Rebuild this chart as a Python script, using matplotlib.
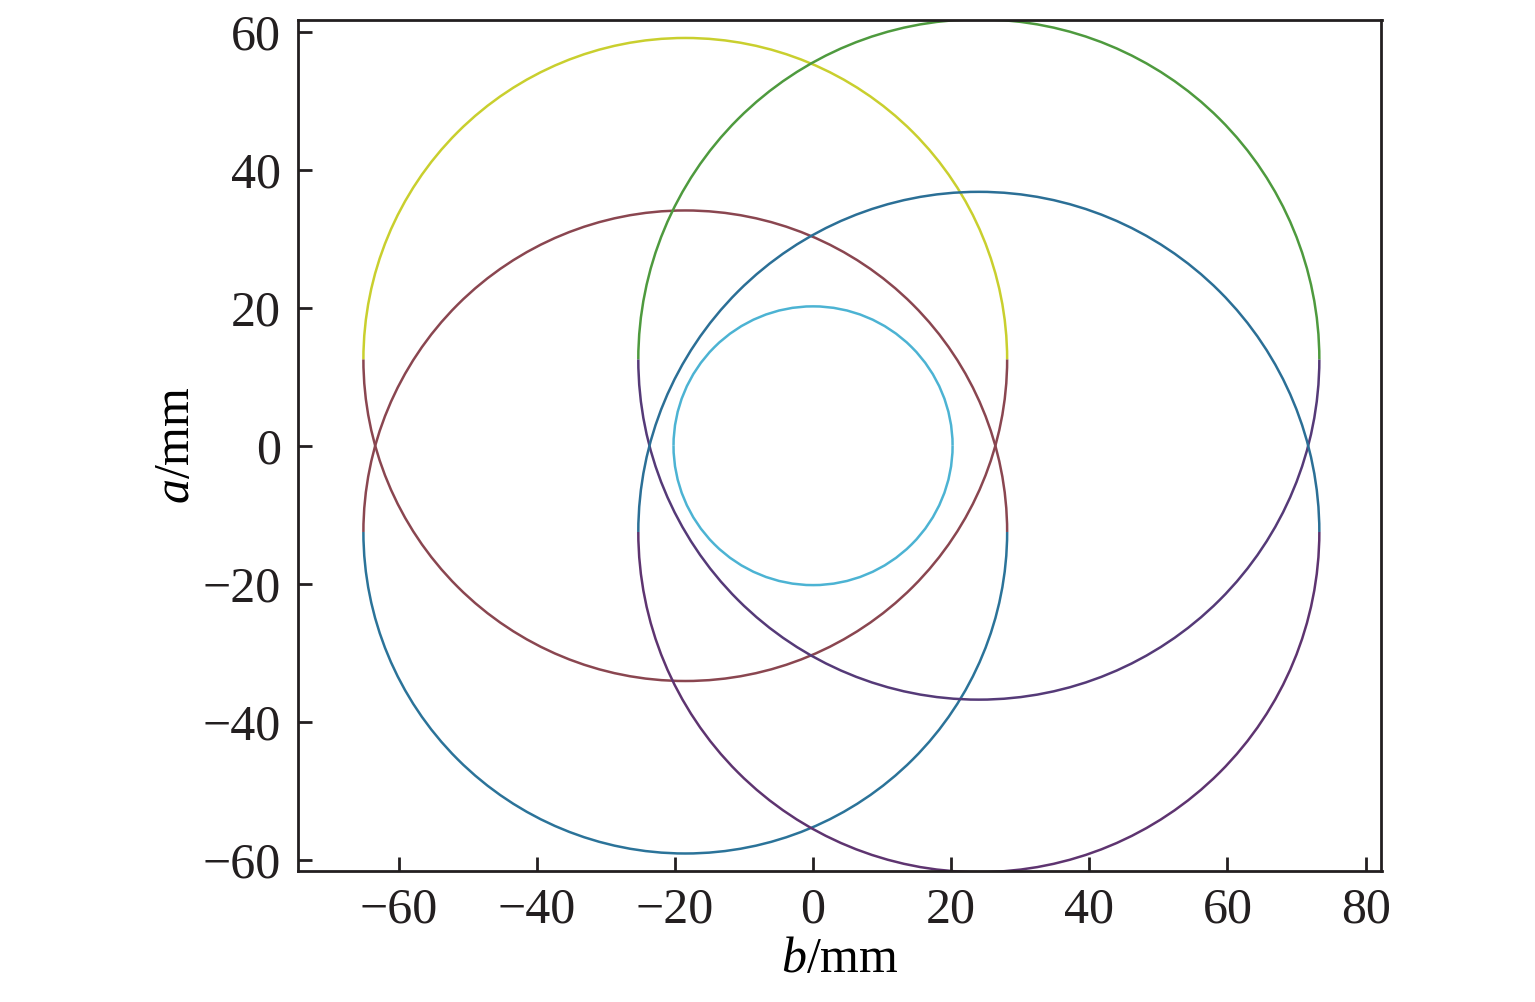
import matplotlib
matplotlib.use("Agg")
import matplotlib.pyplot as plt
from matplotlib.patches import Arc

plt.rcParams['font.family'] = ['Liberation Serif', 'DejaVu Serif']
plt.rcParams['mathtext.fontset'] = 'custom'
plt.rcParams['mathtext.rm'] = 'Liberation Serif'
plt.rcParams['mathtext.it'] = 'Liberation Serif:italic'
plt.rcParams['text.color'] = '#231f20'
plt.rcParams['xtick.color'] = '#231f20'
plt.rcParams['ytick.color'] = '#231f20'

# circles: center b, center a, radius
centers_b = [-18.5, -18.5, 24.0, 24.0, 0.0]
centers_a = [12.5, -12.5, 12.5, -12.5, 0.0]
radii = [46.6, 46.6, 49.3, 49.3, 20.2]
# colour of upper half / lower half of each circle
upper_colors = ['#c9cf2e', '#8a4650', '#4e9a3e', '#2b6f96', '#4cb3d3']
lower_colors = ['#8a4650', '#2b7399', '#553a78', '#5e3470', '#4cb3d3']

xticks = [-60, -40, -20, 0, 20, 40, 60, 80]
yticks = [-60, -40, -20, 0, 20, 40, 60]

fig = plt.figure(figsize=(15.35, 10.02), dpi=100)
ax = fig.add_axes([0.194, 0.131, 0.706, 0.849])

for cb, ca, r, cu, cl in zip(centers_b, centers_a, radii, upper_colors, lower_colors):
    ax.add_patch(Arc((cb, ca), 2 * r, 2 * r, theta1=0, theta2=180, color=cu, lw=1.8))
    ax.add_patch(Arc((cb, ca), 2 * r, 2 * r, theta1=180, theta2=360, color=cl, lw=1.8))

ax.set_xlim(-74.6, 82.3)
ax.set_ylim(-61.6, 61.7)
ax.set_xticks(xticks)
ax.set_yticks(yticks)
ax.tick_params(direction='in', length=10, width=2, labelsize=36, pad=12)
for s in ax.spines.values():
    s.set_linewidth(2)
    s.set_color('#231f20')

ax.set_xlabel(r'$\mathit{b}$/mm', fontsize=36, labelpad=2)
ax.set_ylabel(r'$\mathit{a}$/mm', fontsize=36, labelpad=2)

fig.savefig('out.png', dpi=100)
